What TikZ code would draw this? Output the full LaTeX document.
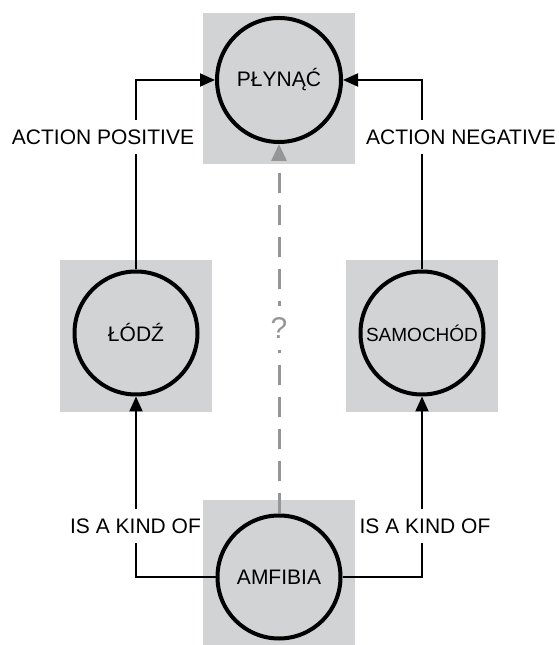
\documentclass[tikz,border=0pt]{standalone}
\usepackage{fontspec}
\setmainfont{Liberation Sans}
\usetikzlibrary{arrows.meta}
\definecolor{boxgray}{RGB}{209,211,212}
\definecolor{dashgray}{RGB}{150,150,150}

\begin{document}
\begin{tikzpicture}[x=1pt, y=1pt,
  bg/.style={fill=boxgray, minimum width=152pt, minimum height=152pt, inner sep=0pt},
  concept/.style={draw, circle, line width=4pt, minimum size=123pt, inner sep=0pt, font=\fontsize{21}{25}\selectfont},
  link/.style={-{Triangle[length=15pt,width=13pt]}, line width=2pt},
  rel/.style={fill=white, inner xsep=2pt, inner ysep=10pt, font=\fontsize{21}{25}\selectfont},
  guess/.style={-{Triangle[length=17pt,width=15pt]}, draw=dashgray, line width=3pt, dash pattern=on 20pt off 12pt}]

  \useasboundingbox (0,0) rectangle (559,645);

  % Grey backgrounds
  \node[bg, minimum height=151pt] (topbg) at (279,556.5) {};
  \node[bg] (lodzbg) at (136,309) {};
  \node[bg] (carbg) at (422,309) {};
  \node[bg, minimum height=145pt] (amfbg) at (279,72.5) {};

  % Concepts
  \node[concept, minimum size=124pt] (plynac) at (279,565) {PŁYNĄĆ};
  \node[concept] (lodz) at (136,312) {ŁÓDŹ};
  \node[concept] (car) at (422,312) {\fontsize{19}{22}\selectfont SAMOCHÓD};
  \node[concept] (amfibia) at (279,68) {AMFIBIA};

  % Arrows
  \draw[link] (lodz.north) |- (plynac.west);
  \draw[link] (car.north) |- (plynac.east);
  \draw[link] (amfibia.west) -| (lodz.south);
  \draw[link] (amfibia.east) -| (car.south);
  \draw[guess] (amfibia.north) -- (plynac.south);

  % Labels
  \node[rel] (actpos) at (103,508) {ACTION POSITIVE};
  \node[rel] (actneg) at (461,508) {ACTION NEGATIVE};
  \node[rel] (kindl) at (135.5,119) {IS A KIND OF};
  \node[rel] (kindr) at (425,119) {IS A KIND OF};
  \node[rel, inner ysep=12pt, text=dashgray, font=\fontsize{30}{34}\selectfont] (quest) at (279,317) {?};

\end{tikzpicture}
\end{document}
